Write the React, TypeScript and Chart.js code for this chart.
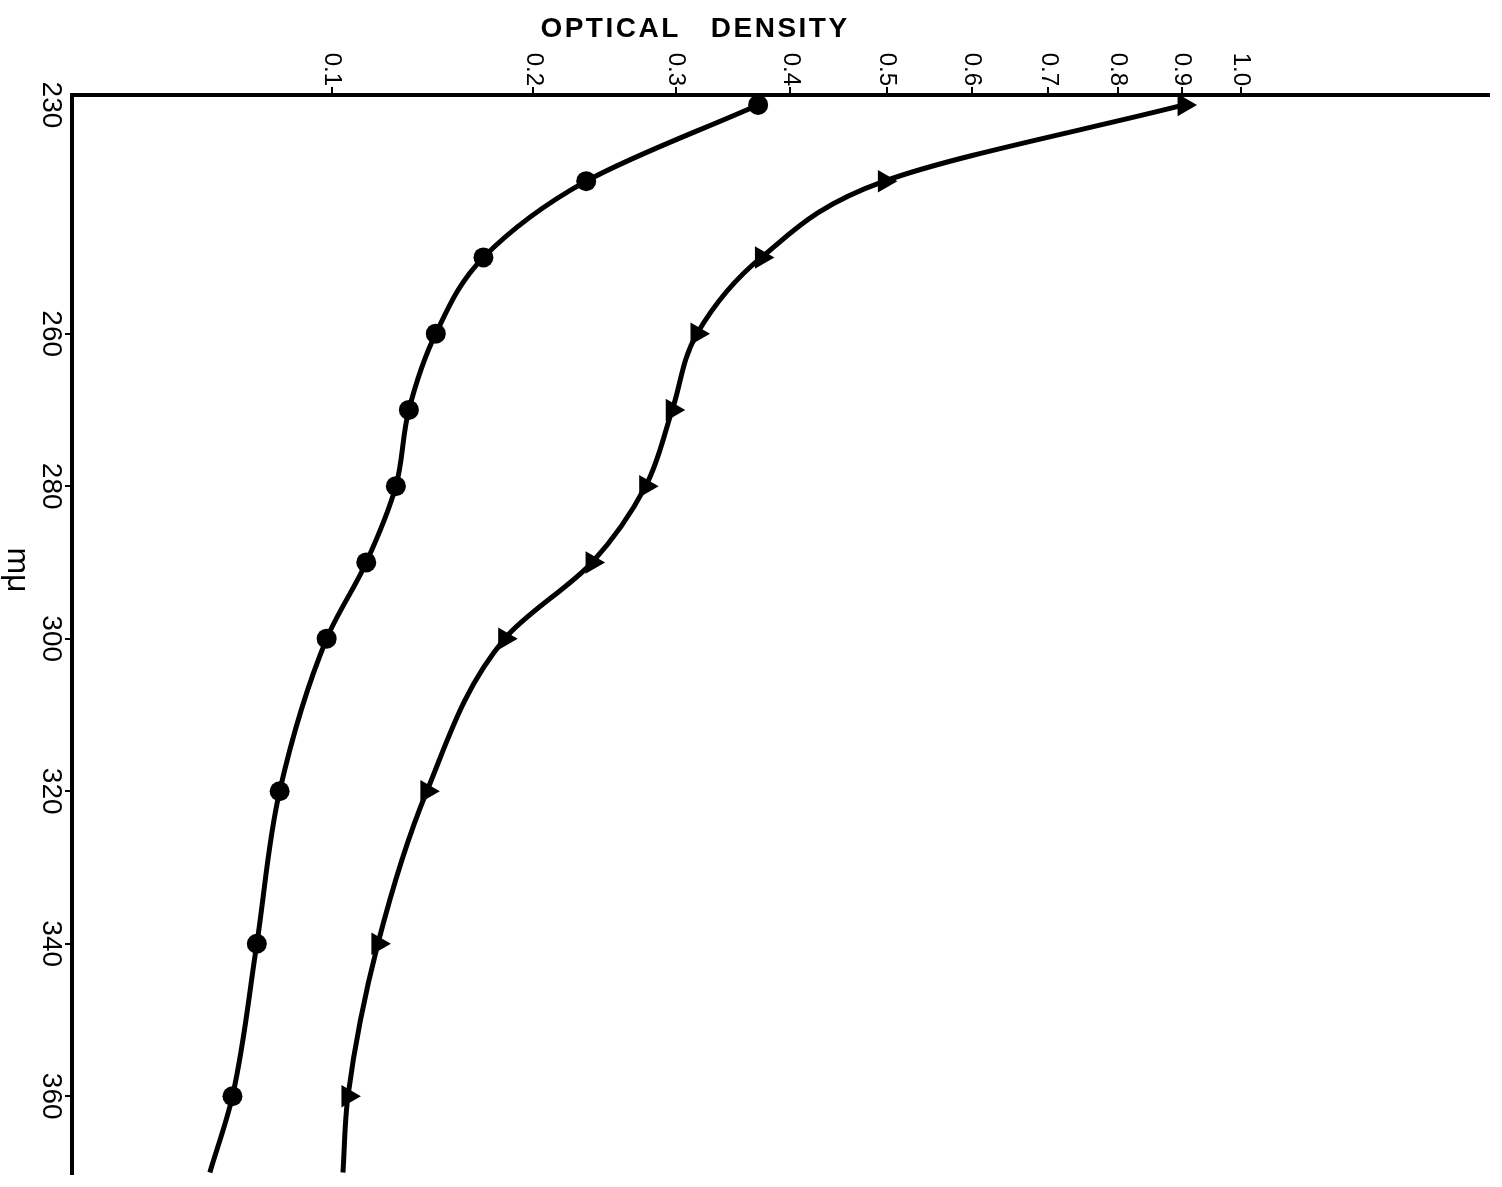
import React, { useEffect, useRef } from 'react';
import { Chart, LinearScale, registerables } from 'chart.js';

// ---- data ----
const WAVELENGTHS = [230, 240, 250, 260, 270, 280, 290, 300, 320, 340, 360, 370];
const OD_CIRCLES = [0.37, 0.234, 0.171, 0.146, 0.133, 0.127, 0.114, 0.098, 0.081, 0.0735, 0.066, 0.0595];
const OD_TRIANGLES = [0.904, 0.497, 0.373, 0.317, 0.297, 0.2765, 0.238, 0.183, 0.1416, 0.119, 0.1064, 0.1044];
// the last reading (370) is only the end of the drawn curve, it has no marker
const HAS_MARKER = [true, true, true, true, true, true, true, true, true, true, true, false];

const OD_TICKS = [0.1, 0.2, 0.3, 0.4, 0.5, 0.6, 0.7, 0.8, 0.9, 1.0];
const OD_TICK_LABELS = ['0.1', '0.2', '0.3', '0.4', '0.5', '0.6', '0.7', '0.8', '0.9', '1.0'];
const WL_TICKS = [230, 260, 280, 300, 320, 340, 360];
const WL_TICK_LABELS = ['230', '260', '280', '300', '320', '340', '360'];
const X_TITLE = 'OPTICAL DENSITY';
const Y_TITLE = 'mμ';

// ---- a power-law scale (the graph paper's optical density ruling) ----
class PowerScale extends LinearScale {
  static id = 'power';
  static defaults = { exponent: 0.35 };
  pw(v: number) {
    const e = (this.options as any).exponent ?? 0.35;
    return Math.pow(Math.max(v, 1e-12), e);
  }
  getPixelForValue(value: number) {
    const a = this.pw(this.min as number);
    const b = this.pw(this.max as number);
    return this.getPixelForDecimal((this.pw(value) - a) / (b - a));
  }
  getValueForPixel(pixel: number) {
    const e = (this.options as any).exponent ?? 0.35;
    const a = this.pw(this.min as number);
    const b = this.pw(this.max as number);
    return Math.pow(a + this.getDecimalForPixel(pixel) * (b - a), 1 / e);
  }
}

Chart.register(...registerables, PowerScale as any);

const FONT = '"Liberation Sans", Arial, sans-serif';

const labelsPlugin = {
  id: 'rotatedLabels',
  afterDraw(chart: any) {
    const ctx = chart.ctx as CanvasRenderingContext2D;
    const xs = chart.scales.x;
    const ys = chart.scales.y;
    ctx.save();
    ctx.fillStyle = '#000';

    // optical density tick labels (rotated clockwise, ending just above the tick)
    ctx.font = `24px ${FONT}`;
    ctx.textAlign = 'right';
    ctx.textBaseline = 'middle';
    OD_TICKS.forEach((v, i) => {
      const px = xs.getPixelForValue(v);
      ctx.save();
      ctx.translate(px, xs.bottom - 9);
      ctx.rotate(Math.PI / 2);
      ctx.fillText(OD_TICK_LABELS[i], 0, 0);
      ctx.restore();
    });

    // wavelength tick labels (rotated clockwise, centred on the tick)
    ctx.font = `28px ${FONT}`;
    ctx.textAlign = 'center';
    WL_TICKS.forEach((v, i) => {
      const py = ys.getPixelForValue(v);
      ctx.save();
      ctx.translate(ys.right - 21, py);
      ctx.rotate(Math.PI / 2);
      ctx.fillText(WL_TICK_LABELS[i], 0, 0);
      ctx.restore();
    });

    // y title
    ctx.font = `32px ${FONT}`;
    ctx.save();
    ctx.translate(17, 570);
    ctx.rotate(Math.PI / 2);
    ctx.fillText(Y_TITLE, 0, 0);
    ctx.restore();

    // x title (horizontal, letter spaced)
    ctx.font = `bold 28px ${FONT}`;
    (ctx as any).letterSpacing = '2.5px';
    ctx.textAlign = 'left';
    ctx.textBaseline = 'alphabetic';
    const words = X_TITLE.split(' ');
    const gap = 30;
    const widths = words.map((w) => ctx.measureText(w).width);
    const total = widths.reduce((s, w) => s + w, 0) + gap * (words.length - 1);
    let x = 695 - total / 2;
    words.forEach((w, i) => {
      ctx.fillText(w, x, 37);
      x += widths[i] + gap;
    });
    ctx.restore();
  },
};

export default function App() {
  const ref = useRef<HTMLCanvasElement | null>(null);

  useEffect(() => {
    document.body.style.margin = '0';
    const canvas = ref.current;
    if (!canvas) return;

    const radii = (r: number) => HAS_MARKER.map((m) => (m ? r : 0));

    const chart = new Chart(canvas, {
      type: 'scatter',
      data: {
        datasets: [
          {
            label: 'circles',
            data: WAVELENGTHS.map((w, i) => ({ x: OD_CIRCLES[i], y: w })),
            indexAxis: 'y',
            showLine: true,
            cubicInterpolationMode: 'monotone',
            borderColor: '#000',
            borderWidth: 5,
            pointStyle: 'circle',
            pointRadius: radii(10),
            pointBackgroundColor: '#000',
            pointBorderWidth: 0,
            clip: false as any,
          } as any,
          {
            label: 'triangles',
            data: WAVELENGTHS.map((w, i) => ({ x: OD_TRIANGLES[i], y: w })),
            indexAxis: 'y',
            showLine: true,
            cubicInterpolationMode: 'monotone',
            borderColor: '#000',
            borderWidth: 5,
            pointStyle: 'triangle',
            pointRotation: 90,
            pointRadius: radii(13),
            pointBackgroundColor: '#000',
            pointBorderWidth: 0,
            clip: false as any,
          } as any,
        ],
      },
      options: {
        animation: false,
        responsive: false,
        devicePixelRatio: 1,
        layout: { padding: { left: 0, top: 0, right: 12, bottom: 0 } },
        plugins: { legend: { display: false }, tooltip: { enabled: false }, title: { display: false } },
        scales: {
          x: {
            type: 'power' as any,
            position: 'top',
            min: 0.0287,
            max: 1.494,
            exponent: 0.35,
            afterBuildTicks: (s: any) => {
              s.ticks = OD_TICKS.map((v) => ({ value: v }));
            },
            afterFit: (s: any) => {
              s.height = 95;
            },
            ticks: { display: false, autoSkip: false },
            grid: { display: true, drawOnChartArea: false, drawTicks: true, tickLength: 8, color: '#000', lineWidth: 2 },
            border: { display: true, color: '#000', width: 4 },
          } as any,
          y: {
            type: 'linear',
            position: 'left',
            reverse: true,
            min: 228.7,
            max: 370.2,
            afterBuildTicks: (s: any) => {
              s.ticks = WL_TICKS.map((v) => ({ value: v }));
            },
            afterFit: (s: any) => {
              s.width = 72;
            },
            ticks: { display: false, autoSkip: false },
            grid: {
              display: true,
              drawOnChartArea: false,
              drawTicks: true,
              tickLength: 7,
              color: (c: any) => (c.tick && c.tick.value === 230 ? 'rgba(0,0,0,0)' : '#000'),
              lineWidth: 2,
            },
            border: { display: true, color: '#000', width: 4 },
          },
        },
      },
      plugins: [labelsPlugin],
    });

    return () => chart.destroy();
  }, []);

  return <canvas ref={ref} width={1502} height={1187} style={{ display: 'block' }} />;
}
